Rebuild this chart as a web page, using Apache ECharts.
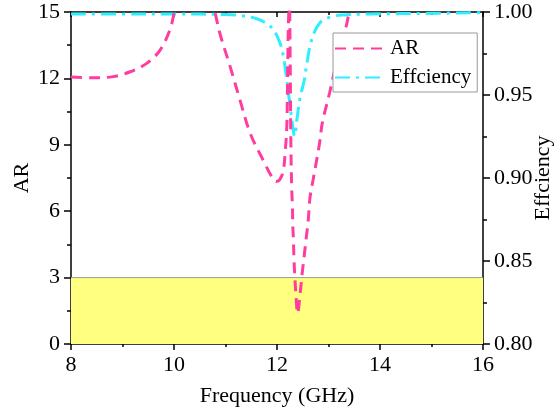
<!DOCTYPE html>
<html>
<head>
<meta charset="utf-8">
<script src="https://cdn.jsdelivr.net/npm/echarts@6/dist/echarts.min.js"></script>
<style>
  html, body { margin: 0; padding: 0; background: #fff; }
  #chart { width: 556px; height: 413px; }
</style>
</head>
<body>
<div id="chart"></div>
<script>
// AR curve: [frequency GHz, AR] (values above 15 are clipped by the axis)
const arData = [
  [8.0, 12.06], [8.43, 12.03], [8.82, 12.08], [9.15, 12.3], [9.47, 12.68],
  [9.73, 13.28], [9.92, 14.19], [10.0, 14.95], [10.1, 16.2], [10.4, 16.8], [10.7, 15.8],
  [10.8, 14.94], [10.89, 14.04], [11.09, 12.53], [11.28, 11.03], [11.48, 9.52],
  [11.73, 8.31], [11.9, 7.55], [11.98, 7.34], [12.05, 7.42], [12.12, 7.8],
  [12.16, 8.7], [12.19, 9.8], [12.2, 11.0], [12.21, 12.8], [12.22, 14.3],
  [12.24, 15.6], [12.255, 13.0], [12.27, 8.9], [12.285, 7.09], [12.3, 6.19],
  [12.305, 5.51], [12.32, 4.61], [12.33, 3.8], [12.35, 2.89], [12.37, 2.12],
  [12.4, 1.38], [12.45, 2.3], [12.49, 3.21], [12.53, 4.02], [12.57, 4.84],
  [12.61, 5.69], [12.64, 6.6], [12.7, 7.41], [12.77, 8.31], [12.83, 9.13],
  [12.88, 9.99], [13.02, 11.34], [13.18, 12.97], [13.34, 14.32], [13.4, 14.94],
  [13.5, 15.6], [13.8, 16.5], [14.5, 17], [16.0, 17]
];

// Efficiency curve: [frequency GHz, efficiency]
const effData = [
  [8.0, 0.9988], [9.0, 0.9988], [10.0, 0.9988], [11.0, 0.9985], [11.3, 0.9978],
  [11.62, 0.9958], [11.88, 0.9911], [12.04, 0.9828], [12.12, 0.974], [12.18, 0.9615],
  [12.22, 0.9518], [12.26, 0.942], [12.3, 0.932], [12.34, 0.9253], [12.39, 0.936],
  [12.44, 0.947], [12.53, 0.959], [12.57, 0.967], [12.67, 0.983], [12.83, 0.9934],
  [13.06, 0.9972], [13.29, 0.9982], [13.8, 0.9988], [15.0, 0.9992], [16.0, 0.9996]
];

// AR < 3 band
const bandData = [[8, 3], [16, 3]];

const xTicks = { min: 8, max: 16, interval: 2 };
const arTicks = { min: 0, max: 15, interval: 3 };
const effTicks = { min: 0.8, max: 1.0, interval: 0.05 };

const font = 'Liberation Serif';
const black = '#000';

const chart = echarts.init(document.getElementById('chart'));

chart.setOption({
  animation: false,
  textStyle: { fontFamily: font },
  grid: { left: 71, right: 73, top: 12, bottom: 69, outerBoundsMode: 'none', containLabel: false },
  legend: {
    data: ['AR', 'Effciency'],
    orient: 'vertical',
    left: 333,
    top: 33,
    itemWidth: 50,
    itemHeight: 20,
    itemGap: 8,
    padding: [5, 6, 4, 1],
    backgroundColor: '#fff',
    borderColor: '#999',
    borderWidth: 1,
    itemStyle: { opacity: 0 },
    textStyle: { fontFamily: font, fontSize: 21, color: black }
  },
  xAxis: [
    {
      type: 'value',
      position: 'bottom',
      min: xTicks.min, max: xTicks.max, interval: xTicks.interval,
      name: 'Frequency (GHz)',
      nameLocation: 'middle',
      nameGap: 41,
      nameMoveOverlap: false,
      nameTextStyle: { fontFamily: font, fontSize: 22, color: black },
      axisLine: { lineStyle: { color: black, width: 1.5 } },
      axisTick: { length: 6, lineStyle: { color: black, width: 1.5 } },
      minorTick: { show: true, splitNumber: 2, length: 3, lineStyle: { color: black, width: 1.5 } },
      axisLabel: { margin: 10, fontFamily: font, fontSize: 22, color: black },
      splitLine: { show: false }
    },
    {
      type: 'value',
      position: 'top',
      min: xTicks.min, max: xTicks.max, interval: xTicks.interval,
      axisLine: { lineStyle: { color: black, width: 1.5 } },
      axisTick: { inside: true, length: 5, lineStyle: { color: black, width: 1.5 } },
      minorTick: { show: true, splitNumber: 2, length: 3, lineStyle: { color: black, width: 1.5 } },
      axisLabel: { show: false },
      splitLine: { show: false }
    }
  ],
  yAxis: [
    {
      type: 'value',
      position: 'left',
      min: arTicks.min, max: arTicks.max, interval: arTicks.interval,
      name: 'AR',
      nameLocation: 'middle',
      nameRotate: 90,
      nameGap: 38,
      nameMoveOverlap: false,
      nameTextStyle: { fontFamily: font, fontSize: 22, color: black },
      axisLine: { show: true, lineStyle: { color: black, width: 1.5 } },
      axisTick: { show: true, length: 7, lineStyle: { color: black, width: 1.5 } },
      minorTick: { show: true, splitNumber: 2, length: 4, lineStyle: { color: black, width: 1.5 } },
      axisLabel: { margin: 11, fontFamily: font, fontSize: 22, color: black },
      splitLine: { show: false }
    },
    {
      type: 'value',
      position: 'right',
      min: effTicks.min, max: effTicks.max, interval: effTicks.interval,
      name: 'Effciency',
      nameLocation: 'middle',
      nameRotate: 90,
      nameGap: 49,
      nameMoveOverlap: false,
      nameTextStyle: { fontFamily: font, fontSize: 22, color: black },
      axisLine: { show: true, lineStyle: { color: black, width: 1.5 } },
      axisTick: { show: true, length: 7, lineStyle: { color: black, width: 1.5 } },
      minorTick: { show: true, splitNumber: 2, length: 4, lineStyle: { color: black, width: 1.5 } },
      axisLabel: {
        margin: 11, fontFamily: font, fontSize: 22, color: black,
        formatter: v => v.toFixed(2)
      },
      splitLine: { show: false }
    }
  ],
  series: [
    {
      name: 'band',
      type: 'line',
      xAxisIndex: 0,
      yAxisIndex: 0,
      data: bandData,
      showSymbol: false,
      silent: true,
      z: 1,
      lineStyle: { color: '#999', width: 1 },
      areaStyle: { color: '#ffff80', opacity: 1 }
    },
    {
      name: 'AR',
      type: 'line',
      xAxisIndex: 0,
      yAxisIndex: 0,
      data: arData,
      smooth: 0.35,
      showSymbol: false,
      symbol: 'none',
      z: 3,
      itemStyle: { color: '#ff3d9e' },
      lineStyle: { color: '#ff3d9e', width: 3, type: [11, 7] }
    },
    {
      name: 'Effciency',
      type: 'line',
      xAxisIndex: 0,
      yAxisIndex: 1,
      data: effData,
      smooth: 0.35,
      showSymbol: false,
      symbol: 'none',
      z: 2,
      itemStyle: { color: '#2eeeff' },
      lineStyle: { color: '#2eeeff', width: 3, type: [15, 6, 3, 6] }
    }
  ]
});
</script>
</body>
</html>
